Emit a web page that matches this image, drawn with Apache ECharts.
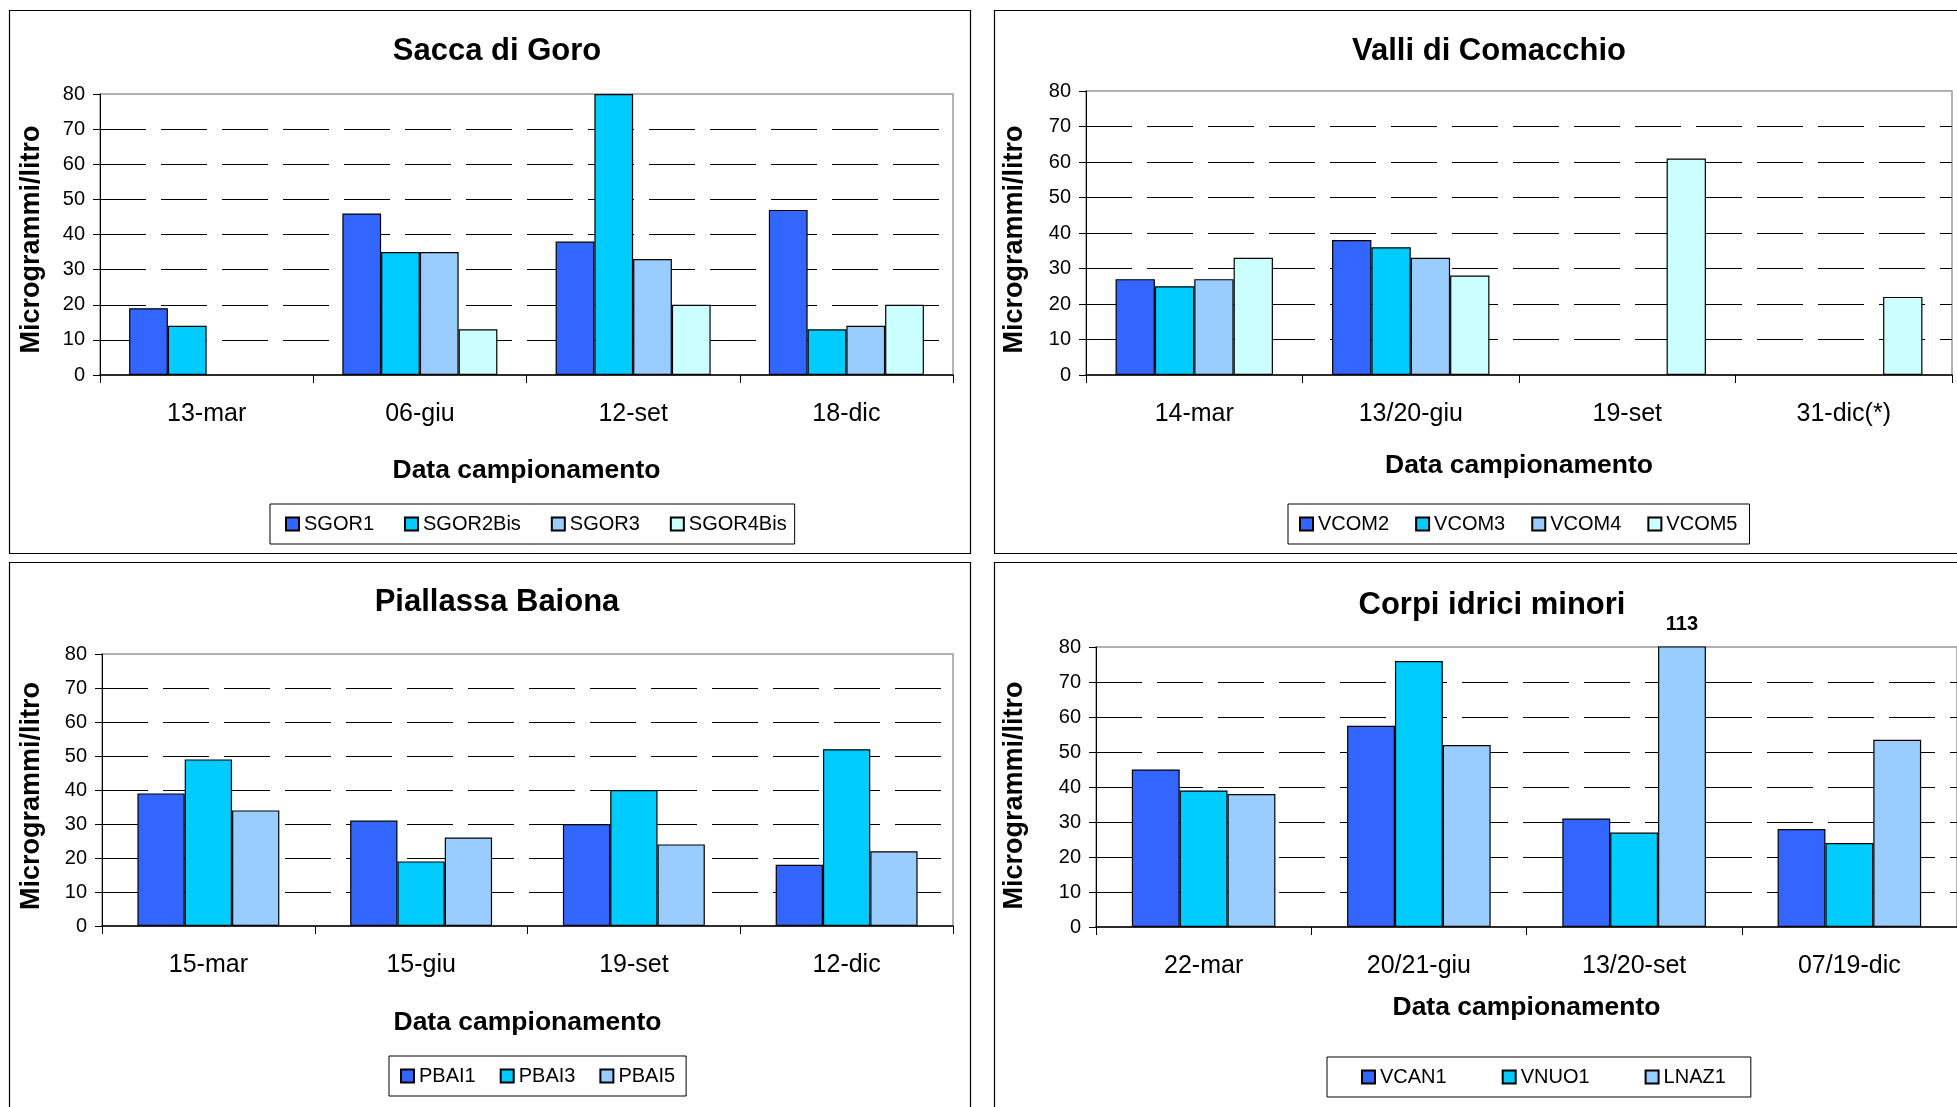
<!DOCTYPE html>
<html>
<head>
<meta charset="utf-8">
<script src="https://cdn.jsdelivr.net/npm/echarts@6/dist/echarts.min.js"></script>
<style>
html,body{margin:0;padding:0;background:#fff;}
#chart{width:1957px;height:1107px;}
</style>
</head>
<body>
<div id="chart"></div>
<script>
// ---- data ----
const goroCats = ['13-mar', '06-giu', '12-set', '18-dic'];
const sgor1    = [19, 46, 38, 47];
const sgor2bis = [14, 35, 80, 13];
const sgor3    = [null, 35, 33, 14];
const sgor4bis = [null, 13, 20, 20];

const comaCats = ['14-mar', '13/20-giu', '19-set', '31-dic(*)'];
const vcom2 = [27, 38, null, null];
const vcom3 = [25, 36, null, null];
const vcom4 = [27, 33, null, null];
const vcom5 = [33, 28, 61, 22];

const baionaCats = ['15-mar', '15-giu', '19-set', '12-dic'];
const pbai1 = [39, 31, 30, 18];
const pbai3 = [49, 19, 40, 52];
const pbai5 = [34, 26, 24, 22];

const minoriCats = ['22-mar', '20/21-giu', '13/20-set', '07/19-dic'];
const vcan1 = [45, 57.5, 31, 28];
const vnuo1 = [39, 76, 27, 24];
const lnaz1 = [38, 52, 113, 53.5];

const panelTitles = ['Sacca di Goro', 'Valli di Comacchio', 'Piallassa Baiona', 'Corpi idrici minori'];
const xAxisTitle = 'Data campionamento';
const yAxisTitle = 'Microgrammi/litro';
const yMin = 0, yMax = 80, yStep = 10;

// ---- styling ----
const FONT = 'Liberation Sans, Arial, sans-serif';
const COLORS = ['#3366FF', '#00CCFF', '#99CCFF', '#CCFFFF'];

const panels = [
  { cats: goroCats, series: [['SGOR1', sgor1], ['SGOR2Bis', sgor2bis], ['SGOR3', sgor3], ['SGOR4Bis', sgor4bis]],
    grid: { left: 100, top: 94, width: 853, height: 281 }, gap: '27.3%',
    title: { x: 497, y: 35.5 }, xNameGap: 82, yNameGap: 55, yNameShift: 10,
    legend: { left: 270, top: 504, itemGap: 30, padding: [10, 8, 10, 15] } },
  { cats: comaCats, series: [['VCOM2', vcom2], ['VCOM3', vcom3], ['VCOM4', vcom4], ['VCOM5', vcom5]],
    grid: { left: 1086, top: 91, width: 866, height: 284 }, gap: '27.3%',
    title: { x: 1489, y: 35.5 }, xNameGap: 77, yNameGap: 58, yNameShift: 13,
    legend: { left: 1288, top: 504, itemGap: 26, padding: [10, 12, 10, 11] } },
  { cats: baionaCats, series: [['PBAI1', pbai1], ['PBAI3', pbai3], ['PBAI5', pbai5]],
    grid: { left: 102, top: 654, width: 851, height: 272 }, gap: '33.3%',
    title: { x: 497, y: 587 }, xNameGap: 83, yNameGap: 57, yNameShift: 12,
    legend: { left: 389, top: 1056, itemGap: 24, padding: [10, 11, 10, 11] } },
  { cats: minoriCats, series: [['VCAN1', vcan1], ['VNUO1', vnuo1], ['LNAZ1', lnaz1]],
    grid: { left: 1096, top: 647, width: 862, height: 280 }, gap: '33.3%',
    title: { x: 1492, y: 590 }, xNameGap: 67, yNameGap: 68, yNameShift: 17,
    legend: { left: 1327, top: 1057, itemGap: 55, padding: [10, 25, 10, 34] } }
];

const option = {
  animation: false,
  backgroundColor: '#fff',
  textStyle: { fontFamily: FONT, color: '#000' },
  title: [], legend: [], grid: [], xAxis: [], yAxis: [], series: [],
  graphic: [
    { type: 'rect', shape: { x: 9.5, y: 10.5, width: 961, height: 543 }, style: { fill: 'none', stroke: '#000', lineWidth: 1.2 }, silent: true },
    { type: 'rect', shape: { x: 994.5, y: 10.5, width: 980, height: 543 }, style: { fill: 'none', stroke: '#000', lineWidth: 1.2 }, silent: true },
    { type: 'rect', shape: { x: 9.5, y: 562.5, width: 961, height: 600 }, style: { fill: 'none', stroke: '#000', lineWidth: 1.2 }, silent: true },
    { type: 'rect', shape: { x: 994.5, y: 562.5, width: 980, height: 600 }, style: { fill: 'none', stroke: '#000', lineWidth: 1.2 }, silent: true }
  ]
};

panels.forEach((p, i) => {
  option.title.push({
    text: panelTitles[i], left: p.title.x, top: p.title.y, textAlign: 'center', padding: 0,
    textStyle: { fontFamily: FONT, fontSize: 31, fontWeight: 'bold', color: '#000' }
  });
  option.grid.push(Object.assign({ show: true, borderColor: '#999', borderWidth: 1.5, backgroundColor: 'transparent' }, p.grid));
  option.xAxis.push({
    type: 'category', gridIndex: i, data: p.cats,
    name: xAxisTitle, nameLocation: 'middle', nameGap: p.xNameGap,
    nameTextStyle: { fontFamily: FONT, fontSize: 26.5, fontWeight: 'bold', color: '#000' },
    axisLine: { show: true, lineStyle: { color: '#000', width: 1.5 } },
    axisTick: { show: true, alignWithLabel: false, length: 8, lineStyle: { color: '#000', width: 1 } },
    axisLabel: { fontFamily: FONT, fontSize: 25, color: '#000', margin: 27 },
    splitLine: { show: false }
  });
  option.yAxis.push({
    type: 'value', gridIndex: i, min: yMin, max: yMax, interval: yStep,
    name: yAxisTitle, nameLocation: 'middle', nameRotate: 90, nameGap: p.yNameGap,
    nameTextStyle: { fontFamily: FONT, fontSize: 27, fontWeight: 'bold', color: '#000', padding: [0, p.yNameShift, 0, 0] },
    axisLine: { show: true, lineStyle: { color: '#000', width: 1 } },
    axisTick: { show: true, length: 7, lineStyle: { color: '#000', width: 1 } },
    axisLabel: { fontFamily: FONT, fontSize: 20, color: '#000', margin: 15 },
    splitLine: { show: true, showMinLine: false, showMaxLine: false, lineStyle: { color: '#000', width: 1, type: [46, 15] } }
  });
  const names = [];
  p.series.forEach(([name, values], k) => {
    names.push(name);
    option.series.push({
      type: 'bar', name: name, xAxisIndex: i, yAxisIndex: i, data: values,
      barGap: '0%', barCategoryGap: p.gap, clip: true,
      itemStyle: { color: COLORS[k], borderColor: '#000', borderWidth: 1.2 },
      label: {
        show: true, position: 'top', distance: 12,
        fontFamily: FONT, fontSize: 20, fontWeight: 'bold', color: '#000',
        formatter: (prm) => (prm.value > yMax ? String(prm.value) : '')
      }
    });
  });
  option.legend.push({
    data: names, left: p.legend.left, top: p.legend.top, orient: 'horizontal',
    itemGap: p.legend.itemGap, padding: p.legend.padding,
    itemWidth: 13, itemHeight: 13, icon: 'rect',
    borderColor: '#000', borderWidth: 1, backgroundColor: '#fff',
    textStyle: { fontFamily: FONT, fontSize: 20, color: '#000' },
    selectedMode: false
  });
});

const chart = echarts.init(document.getElementById('chart'), null, { renderer: 'canvas' });
chart.setOption(option);
</script>
</body>
</html>
